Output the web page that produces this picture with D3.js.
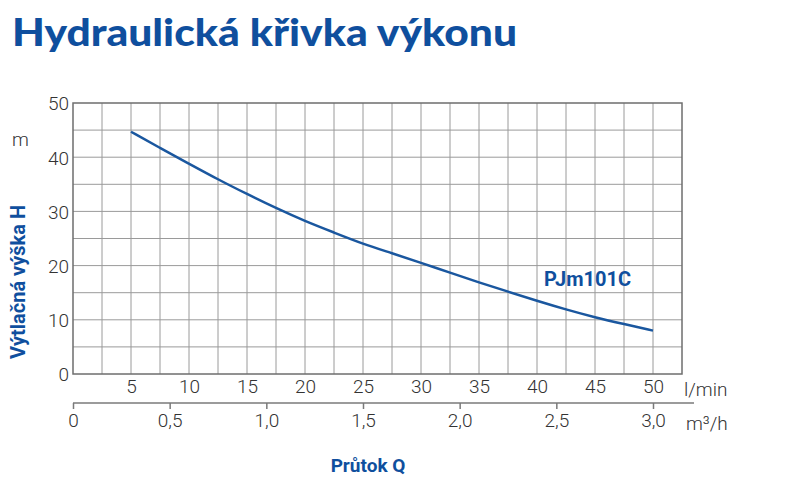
<!DOCTYPE html>
<html>
<head>
<meta charset="utf-8">
<script src="https://cdn.jsdelivr.net/npm/d3@7"></script>
<style>
  body { margin: 0; background: #fff; }
  text { font-family: Roboto, "Noto Sans", sans-serif; }
  .tick text { font-weight: 300; fill: #333; }
</style>
</head>
<body>
<div id="chart"></div>
<script>
// Datos
const flowLmin = [5, 7.5, 10, 12.5, 15, 17.5, 20, 22.5, 25, 27.5, 30, 32.5, 35, 37.5, 40, 42.5, 45, 47.5, 50]
const headM = [44.7, 41.7, 38.8, 35.9, 33.2, 30.6, 28.2, 26.1, 24.0, 22.3, 20.5, 18.7, 16.9, 15.2, 13.5, 11.9, 10.45, 9.2, 8.0]
const lminTicks = [5, 10, 15, 20, 25, 30, 35, 40, 45, 50]
const m3hTicks = [0, 0.5, 1.0, 1.5, 2.0, 2.5, 3.0]
const headTicks = [0, 10, 20, 30, 40, 50]
const curveName = "PJm101C"

const blue = "#0f4f9e"
const width = 787
const height = 491
const margin = { top: 103, left: 73, right: 105, bottom: 117 }

const svg = d3.select("#chart").append("svg")
    .attr("width", width)
    .attr("height", height)

// Escalas
const x = d3.scaleLinear().domain([0, 52.5]).range([margin.left, width - margin.right])
const y = d3.scaleLinear().domain([0, 50]).range([height - margin.bottom, margin.top])
const xm3 = d3.scaleLinear().domain([0, 3]).range([x(0), x(50)])

// Titulo
svg.append("text")
    .attr("x", 12).attr("y", 46)
    .attr("fill", blue)
    .attr("textLength", 505)
    .attr("lengthAdjust", "spacingAndGlyphs")
    .style("font-family", "Lato, sans-serif")
    .style("font-weight", 900)
    .style("font-size", "37px")
    .text("Hydraulická křivka výkonu")

// Rejilla
const grid = svg.append("g")
grid.selectAll(".vline")
    .data(d3.range(2.5, 52.5, 2.5))
    .join("line")
    .attr("x1", d => x(d)).attr("x2", d => x(d))
    .attr("y1", y(50)).attr("y2", y(0))
    .attr("stroke", "#9a9a9a").attr("stroke-width", 1)
grid.selectAll(".hline")
    .data(d3.range(5, 50, 5))
    .join("line")
    .attr("x1", x(0)).attr("x2", x(52.5))
    .attr("y1", d => y(d)).attr("y2", d => y(d))
    .attr("stroke", "#9a9a9a").attr("stroke-width", 1)
grid.append("rect")
    .attr("x", x(0)).attr("y", y(50))
    .attr("width", x(52.5) - x(0)).attr("height", y(0) - y(50))
    .attr("fill", "none").attr("stroke", "#6e6e6e").attr("stroke-width", 1.5)

// Ejes
const yAxisGroup = svg.append("g")
    .attr("transform", `translate(${x(0)},0)`)
    .call(d3.axisLeft(y).tickValues(headTicks).tickSize(0).tickPadding(4))
yAxisGroup.select(".domain").remove()
yAxisGroup.selectAll("text").style("font-size", "19px").attr("dy", "0.36em")

const xAxisGroup = svg.append("g")
    .attr("transform", `translate(0,${y(0)})`)
    .call(d3.axisBottom(x).tickValues(lminTicks).tickSize(0).tickPadding(6))
xAxisGroup.select(".domain").remove()
xAxisGroup.selectAll("text").style("font-size", "19px")

const m3Group = svg.append("g")
    .attr("transform", "translate(0,403)")
    .call(d3.axisBottom(xm3).tickValues(m3hTicks).tickSize(6).tickPadding(5)
        .tickFormat(d => d3.format(".1f")(d).replace(".", ",").replace(/^0,0$/, "0")))
m3Group.select(".domain").attr("d", `M${xm3(0)},0H694`).attr("stroke", "#7a7a7a").attr("stroke-width", 1.5)
m3Group.selectAll(".tick line").attr("stroke", "#7a7a7a").attr("stroke-width", 1.5)
m3Group.selectAll("text").style("font-size", "19px")

// Unidades
const unit = (tx, ty, t) => svg.append("text")
    .attr("x", tx).attr("y", ty)
    .attr("fill", "#333")
    .style("font-weight", 300)
    .style("font-size", "19px")
    .text(t)
unit(12, 146, "m")
unit(684, 396, "l/min")
unit(686, 430, "m³/h")

// Titulos de ejes
svg.append("text")
    .attr("transform", "translate(25,282) rotate(-90)")
    .attr("text-anchor", "middle")
    .attr("fill", blue)
    .style("font-weight", 700)
    .style("font-size", "20px")
    .text("Výtlačná výška H")

svg.append("text")
    .attr("x", 368).attr("y", 472)
    .attr("text-anchor", "middle")
    .attr("fill", blue)
    .style("font-weight", 700)
    .style("font-size", "19px")
    .text("Průtok Q")

// Curva
const data = flowLmin.map((q, i) => ({ q: q, h: headM[i] }))
svg.append("path")
    .datum(data)
    .attr("fill", "none")
    .attr("stroke", "#1a579f")
    .attr("stroke-width", 2.5)
    .attr("d", d3.line()
        .x(d => x(d.q))
        .y(d => y(d.h))
        .curve(d3.curveBasis))

svg.append("text")
    .attr("x", 544).attr("y", 286)
    .attr("fill", blue)
    .style("font-weight", 700)
    .style("font-size", "20px")
    .text(curveName)
</script>
</body>
</html>
